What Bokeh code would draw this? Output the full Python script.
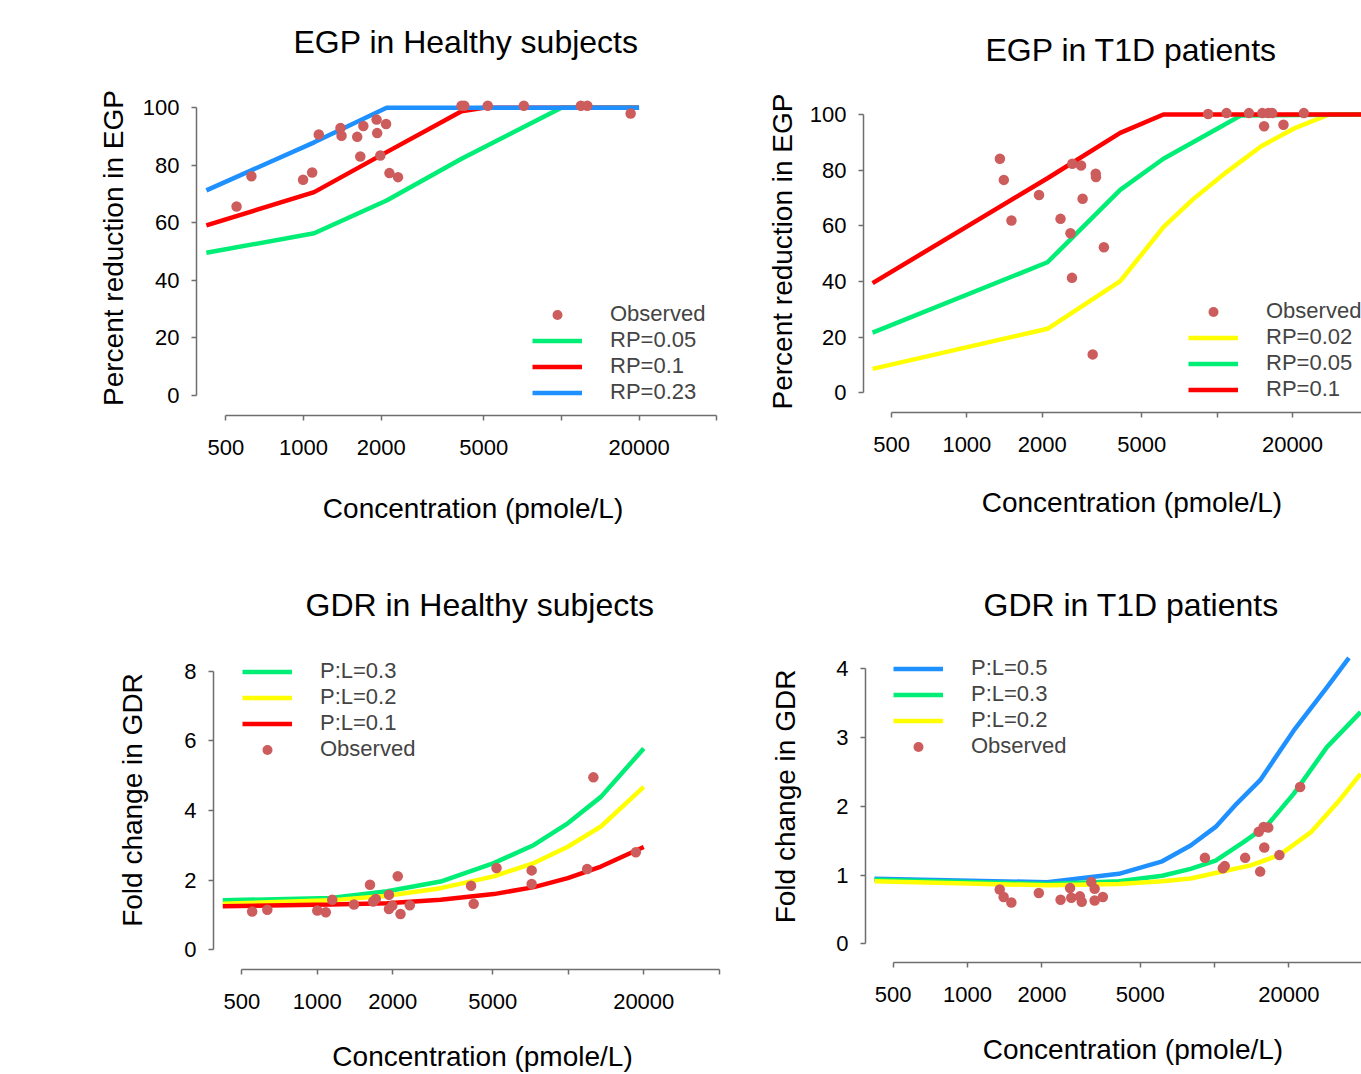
from bokeh.plotting import figure
from bokeh.models import FixedTicker, Legend, LegendItem, Range1d
from bokeh.layouts import column, row
from bokeh.embed import file_html
from bokeh.resources import INLINE

FONT = "Liberation Sans"
GREEN = "#00EE76"
RED = "#FF0000"
BLUE = "#1E90FF"
YELLOW = "#FFFF00"
OBS = "#CD5C5C"
AXC = "#6E6E6E"

X_TICKS = [500, 1000, 2000, 5000, 10000, 20000, 40000]
X_LABELS = {500: "500", 1000: "1000", 2000: "2000", 5000: "5000",
            10000: "", 20000: "20000", 40000: ""}
X_BOUNDS = (500, 40000)
X_LABEL = "Concentration (pmole/L)"

# ---------------- Panel 1: EGP in Healthy subjects ----------------
egp_h_x_rp005 = [420, 1100, 2100, 4100, 10000, 20000]
egp_h_y_rp005 = [49.6, 56.4, 67.8, 82.3, 100, 100]
egp_h_x_rp01 = [420, 1100, 2100, 4100, 5000, 20000]
egp_h_y_rp01 = [59.1, 70.7, 84.6, 98.8, 100, 100]
egp_h_x_rp023 = [420, 1100, 2100, 4100, 10000, 20000]
egp_h_y_rp023 = [71.3, 88.0, 100, 100, 100, 100]
egp_h_obs_x = [550, 628, 996, 1080, 1146, 1391, 1404, 1615, 1660, 1706, 1920, 1930,
               1985, 2090, 2153, 2325, 4100, 4200, 5180, 7150, 11900, 12600, 18550]
egp_h_obs_y = [65.7, 76.2, 75.0, 77.5, 90.7, 93.0, 90.3, 89.9, 83.1, 93.7, 95.9, 91.2,
               83.4, 94.4, 77.3, 75.9, 100.7, 100.7, 100.7, 100.7, 100.7, 100.7, 98.0]

# ---------------- Panel 2: EGP in T1D patients ----------------
egp_t_x_rp002 = [420, 2100, 4100, 6100, 8000, 10900, 15000, 20200, 28000, 40000]
egp_t_y_rp002 = [8.6, 23.0, 40.1, 59.5, 69.5, 79.3, 88.6, 94.9, 100, 100]
egp_t_x_rp005 = [420, 2100, 4100, 6100, 10000, 12400, 40000]
egp_t_y_rp005 = [21.6, 46.9, 72.9, 84.1, 94.9, 99.6, 100]
egp_t_x_rp01 = [420, 2100, 4100, 6100, 40000]
egp_t_y_rp01 = [39.4, 77.1, 93.4, 100, 100]
egp_t_obs_x = [1355, 1405, 1507, 1942, 2367, 2638, 2859, 2594, 2900, 2630, 3272, 3280,
               3527, 3182, 9200, 10900, 13400, 15150, 16000, 16600, 15400, 18400, 22200]
egp_t_obs_y = [84.1, 76.5, 61.9, 71.1, 62.5, 82.3, 81.7, 57.3, 69.7, 41.3, 78.7, 77.5,
               52.3, 13.8, 100.2, 100.5, 100.5, 100.5, 100.5, 100.5, 95.8, 96.3, 100.5]

# ---------------- Panel 3: GDR in Healthy subjects ----------------
gdr_h_x = [420, 1130, 1900, 3100, 5050, 7300, 9960, 13500, 20000]
gdr_h_y_pl03 = [1.42, 1.49, 1.68, 1.96, 2.49, 3.01, 3.63, 4.39, 5.78]
gdr_h_y_pl02 = [1.32, 1.42, 1.55, 1.77, 2.11, 2.49, 2.96, 3.54, 4.68]
gdr_h_y_pl01 = [1.25, 1.30, 1.34, 1.44, 1.60, 1.80, 2.06, 2.39, 2.95]
gdr_h_obs_x = [550, 632, 1000, 1081, 1147, 1400, 1622, 1670, 1710, 1930, 1930, 1990,
               2092, 2146, 2337, 4100, 4200, 5180, 7150, 7150, 11900, 12600, 18600]
gdr_h_obs_y = [1.10, 1.15, 1.13, 1.08, 1.44, 1.30, 1.87, 1.39, 1.46, 1.58, 1.17, 1.27,
               2.11, 1.03, 1.28, 1.84, 1.32, 2.35, 2.28, 1.89, 2.32, 4.95, 2.80]

# ---------------- Panel 4: GDR in T1D patients ----------------
gdr_t_x_pl05 = [420, 2100, 4100, 6140, 8000, 10100, 12300, 15300, 20900, 28500, 35000]
gdr_t_y_pl05 = [0.945, 0.896, 1.018, 1.20, 1.43, 1.70, 2.04, 2.38, 3.10, 3.73, 4.16]
gdr_t_x_pl03 = [420, 2100, 4100, 6140, 8000, 10100, 13100, 16300, 20900, 28500, 39000]
gdr_t_y_pl03 = [0.93, 0.87, 0.91, 0.99, 1.09, 1.21, 1.48, 1.72, 2.18, 2.86, 3.37]
gdr_t_x_pl02 = [420, 2100, 4100, 6140, 8000, 10100, 14000, 18300, 24500, 31400, 39000]
gdr_t_y_pl02 = [0.91, 0.85, 0.87, 0.91, 0.95, 1.03, 1.14, 1.29, 1.62, 2.05, 2.47]
gdr_t_obs_x = [1350, 1400, 1504, 1943, 2380, 2600, 2630, 2850, 2900, 3170, 3270, 3270,
               3530, 9140, 10800, 11000, 13300, 15100, 15800, 16500, 15900, 15300, 18300, 22200]
gdr_t_obs_y = [0.79, 0.68, 0.60, 0.74, 0.64, 0.81, 0.67, 0.69, 0.61, 0.90, 0.80, 0.63,
               0.68, 1.25, 1.10, 1.13, 1.25, 1.63, 1.70, 1.69, 1.40, 1.05, 1.29, 2.28]


def make_fig(width, height, xr, yr, borders, title, title_offset, standoff,
             yticks, ybounds, ylabel, ylabel_standoff, xlabel_shift, xlabel_standoff):
    left, right, top, bottom = borders
    p = figure(width=width, height=height, x_axis_type="log",
               x_range=Range1d(*xr), y_range=Range1d(*yr),
               output_backend="svg", toolbar_location=None, title=title,
               min_border_left=left, min_border_right=right,
               min_border_top=top, min_border_bottom=bottom,
               frame_align=False)
    p.outline_line_color = None
    p.grid.visible = False
    p.background_fill_color = "white"
    p.border_fill_color = "white"
    p.title.text_font = FONT
    p.title.text_font_size = "32px"
    p.title.text_font_style = "normal"
    p.title.text_color = "black"
    p.title.align = "left"
    p.title.offset = title_offset
    p.title.standoff = standoff
    for ax in (p.xaxis[0], p.yaxis[0]):
        ax.axis_line_color = AXC
        ax.axis_line_width = 1.5
        ax.major_tick_line_color = AXC
        ax.major_tick_line_width = 1.5
        ax.major_tick_out = 5
        ax.major_tick_in = 0
        ax.minor_tick_line_color = None
        ax.major_label_text_font = FONT
        ax.major_label_text_font_size = "22px"
        ax.major_label_text_color = "black"
        ax.axis_label_text_font = FONT
        ax.axis_label_text_font_size = "28px"
        ax.axis_label_text_font_style = "normal"
        ax.axis_label_text_color = "black"
    xa = p.xaxis[0]
    xa.ticker = FixedTicker(ticks=X_TICKS)
    xa.major_label_overrides = X_LABELS
    xa.bounds = X_BOUNDS
    xa.major_label_standoff = 19
    # leading no-break spaces move the centred title under the middle of the axis line
    xa.axis_label = "\u00a0" * xlabel_shift + X_LABEL
    xa.axis_label_standoff = xlabel_standoff
    ya = p.yaxis[0]
    ya.ticker = FixedTicker(ticks=yticks)
    ya.bounds = ybounds
    ya.axis_label = ylabel
    ya.major_label_standoff = 12
    ya.axis_label_standoff = ylabel_standoff
    return p


def add_legend(p, items, loc):
    lg = Legend(items=items, location=loc, glyph_width=50, glyph_height=25,
                label_height=25, label_standoff=28, spacing=0, padding=0, margin=0,
                border_line_color=None, background_fill_alpha=0,
                label_text_font=FONT, label_text_font_size="22px")
    p.add_layout(lg, "center")


def lines_and_points(p, series, ox, oy):
    rs = []
    for xs, ys, col in series:
        rs.append(p.line(xs, ys, line_color=col, line_width=4.5))
    ro = p.scatter(ox, oy, size=10.5, fill_color=OBS, line_color=None)
    return rs, ro


# Panel 1
p1 = make_fig(745, 540, (384.6, 40650), (-6.95, 109.49), (196, 27, 80, 125),
              "EGP in Healthy subjects", 97, 42, [0, 20, 40, 60, 80, 100], (0, 100),
              "Percent reduction in EGP", 11, 4, 35)
r1, o1 = lines_and_points(p1, [(egp_h_x_rp005, egp_h_y_rp005, GREEN),
                               (egp_h_x_rp01, egp_h_y_rp01, RED),
                               (egp_h_x_rp023, egp_h_y_rp023, BLUE)],
                          egp_h_obs_x, egp_h_obs_y)
add_legend(p1, [LegendItem(label="Observed", renderers=[o1]),
                LegendItem(label="RP=0.05", renderers=[r1[0]]),
                LegendItem(label="RP=0.1", renderers=[r1[1]]),
                LegendItem(label="RP=0.23", renderers=[r1[2]])], (336, 10))

# Panel 2
p2 = make_fig(616, 540, (386.4, 37730), (-7.08, 108.62), (118, 0, 90, 128),
              "EGP in T1D patients", 122, 46, [0, 20, 40, 60, 80, 100], (0, 100),
              "Percent reduction in EGP", 9, 5, 32)
r2, o2 = lines_and_points(p2, [(egp_t_x_rp002, egp_t_y_rp002, YELLOW),
                               (egp_t_x_rp005, egp_t_y_rp005, GREEN),
                               (egp_t_x_rp01, egp_t_y_rp01, RED)],
                          egp_t_obs_x, egp_t_obs_y)
add_legend(p2, [LegendItem(label="Observed", renderers=[o2]),
                LegendItem(label="RP=0.02", renderers=[r2[0]]),
                LegendItem(label="RP=0.05", renderers=[r2[1]]),
                LegendItem(label="RP=0.1", renderers=[r2[2]])], (325, 10))

# Panel 3
p3 = make_fig(745, 534, (385.7, 40456), (-0.564, 9.165), (213, 25, 90, 104),
              "GDR in Healthy subjects", 92, 16, [0, 2, 4, 6, 8], (0, 8),
              "Fold change in GDR", 33, 4, 29)
r3, o3 = lines_and_points(p3, [(gdr_h_x, gdr_h_y_pl03, GREEN),
                               (gdr_h_x, gdr_h_y_pl02, YELLOW),
                               (gdr_h_x, gdr_h_y_pl01, RED)],
                          gdr_h_obs_x, gdr_h_obs_y)
add_legend(p3, [LegendItem(label="P:L=0.3", renderers=[r3[0]]),
                LegendItem(label="P:L=0.2", renderers=[r3[1]]),
                LegendItem(label="P:L=0.1", renderers=[r3[2]]),
                LegendItem(label="Observed", renderers=[o3])], (29, 207))

# Panel 4
p4 = make_fig(616, 534, (386.2, 39346), (-0.272, 4.557), (120, 0, 90, 112),
              "GDR in T1D patients", 118, 16, [0, 1, 2, 3, 4], (0, 4),
              "Fold change in GDR", 32, 5, 29)
r4, o4 = lines_and_points(p4, [(gdr_t_x_pl05, gdr_t_y_pl05, BLUE),
                               (gdr_t_x_pl03, gdr_t_y_pl03, GREEN),
                               (gdr_t_x_pl02, gdr_t_y_pl02, YELLOW)],
                          gdr_t_obs_x, gdr_t_obs_y)
add_legend(p4, [LegendItem(label="P:L=0.5", renderers=[r4[0]]),
                LegendItem(label="P:L=0.3", renderers=[r4[1]]),
                LegendItem(label="P:L=0.2", renderers=[r4[2]]),
                LegendItem(label="Observed", renderers=[o4])], (28, 203))

layout = column(row(p1, p2, spacing=0), row(p3, p4, spacing=0), spacing=0)
open("out.html", "w").write(file_html(layout, INLINE))
